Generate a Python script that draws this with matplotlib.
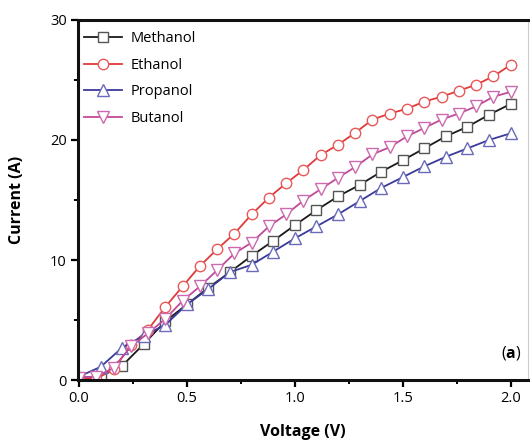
import matplotlib
matplotlib.use("Agg")
import matplotlib.pyplot as plt
import numpy as np

plt.rcParams['font.family'] = ['Open Sans', 'DejaVu Sans']
plt.rcParams['mathtext.fontset'] = 'custom'
plt.rcParams['mathtext.bf'] = 'Open Sans:bold'
plt.rcParams['mathtext.rm'] = 'Open Sans'

# voltage grids (V)
v_fine = [0.08 * i for i in range(26)]   # Ethanol, Butanol
v_coarse = [0.1 * i for i in range(21)]  # Methanol, Propanol

methanol = [0.2, 0.3, 1.2, 3.0, 4.9, 6.3, 7.7, 9.0, 10.35, 11.6, 12.9,
            14.15, 15.3, 16.25, 17.35, 18.3, 19.3, 20.3, 21.1, 22.1, 23.0]
propanol = [0.3, 1.1, 2.7, 3.7, 4.6, 6.3, 7.6, 9.0, 9.6, 10.7, 11.8,
            12.8, 13.8, 14.9, 16.0, 16.9, 17.8, 18.6, 19.3, 20.0, 20.55]
ethanol = [0.2, 0.1, 0.9, 2.9, 4.2, 6.1, 7.8, 9.5, 10.9, 12.2, 13.8, 15.2,
           16.4, 17.5, 18.75, 19.6, 20.6, 21.7, 22.2, 22.6, 23.2, 23.6,
           24.1, 24.6, 25.3, 26.25]
butanol = [0.2, 0.3, 1.0, 2.8, 3.9, 5.1, 6.6, 7.8, 9.15, 10.55, 11.45, 12.8,
           13.8, 14.95, 15.9, 16.85, 17.75, 18.8, 19.4, 20.3, 21.0, 21.7,
           22.2, 22.8, 23.6, 24.0]

fig = plt.figure(figsize=(5.3, 4.42), dpi=100)
ax = fig.add_axes([0.147, 0.140, 0.849, 0.815])

ax.plot(v_coarse, methanol, color='#1a1a1a', lw=1.3, marker='s', ms=6.5,
        mfc='white', mec='#555555', mew=1.0, label='Methanol')
ax.plot(v_fine, ethanol, color='#e03a3a', lw=1.3, marker='o', ms=7.5,
        mfc='white', mec='#e85a5a', mew=1.0, label='Ethanol')
ax.plot(v_coarse, propanol, color='#3a3a9a', lw=1.3, marker='^', ms=8,
        mfc='white', mec='#6a6ab8', mew=1.0, label='Propanol')
ax.plot(v_fine, butanol, color='#c04a98', lw=1.3, marker='v', ms=8,
        mfc='white', mec='#cc6ab0', mew=1.0, label='Butanol')

ax.set_xlim(-0.005, 2.08)
ax.set_ylim(0, 30)
ax.set_xticks([0.0, 0.5, 1.0, 1.5, 2.0])
ax.set_xticklabels(['0.0', '0.5', '1.0', '1.5', '2.0'])
ax.set_xticks([0.25, 0.75, 1.25, 1.75], minor=True)
ax.set_yticks([0, 10, 20, 30])
ax.set_yticks([5, 15, 25], minor=True)
ax.tick_params(which='major', direction='out', length=5, width=1.6,
               labelsize=10.5, pad=3)
ax.tick_params(which='minor', direction='out', length=3, width=1.4)
ax.tick_params(top=False, right=False)

for s in ['left', 'bottom', 'top']:
    ax.spines[s].set_linewidth(2.2)
    ax.spines[s].set_color('#111111')
ax.spines['right'].set_linewidth(0.8)
ax.spines['right'].set_color('#cccccc')

ax.set_xlabel('Voltage (V)', fontsize=11.5, fontweight='bold', labelpad=13)
ax.set_ylabel('Current (A)', fontsize=11.5, fontweight='bold', labelpad=18)

ax.legend(loc='upper left', bbox_to_anchor=(0.0, 0.985), frameon=False,
          fontsize=10.5, handlelength=2.6, handletextpad=0.6,
          labelspacing=0.8, borderaxespad=0.1, borderpad=0.3)

ax.text(0.985, 0.05, r'($\mathbf{a}$)', transform=ax.transAxes,
        ha='right', va='bottom', fontsize=11.5)

fig.savefig('out.png', dpi=100)
